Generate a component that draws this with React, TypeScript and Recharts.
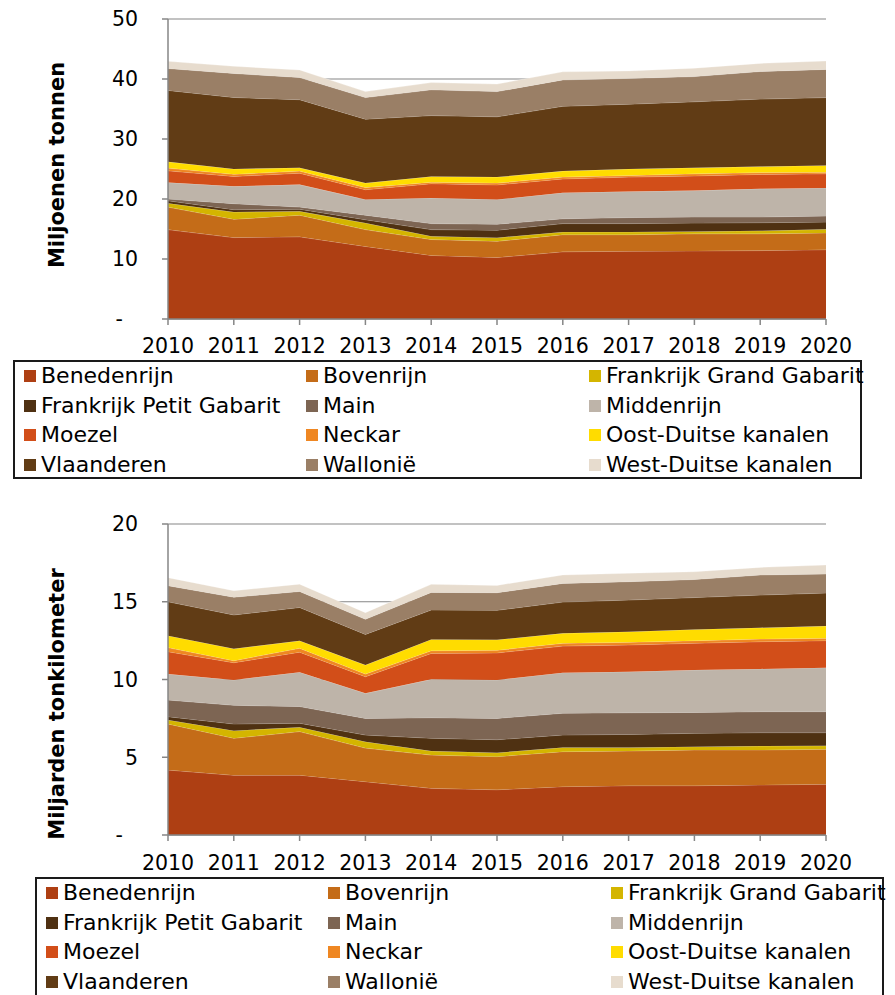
import React from 'react';
import { AreaChart, Area, XAxis, YAxis, CartesianGrid, Legend } from 'recharts';

const years = ['2010', '2011', '2012', '2013', '2014', '2015', '2016', '2017', '2018', '2019', '2020'];

const seriesNames = [
  'Benedenrijn', 'Bovenrijn', 'Frankrijk Grand Gabarit',
  'Frankrijk Petit Gabarit', 'Main', 'Middenrijn',
  'Moezel', 'Neckar', 'Oost-Duitse kanalen',
  'Vlaanderen', 'Wallonië', 'West-Duitse kanalen',
];

const seriesColors = [
  '#AE3F13', '#C46C18', '#D4B500',
  '#4F3112', '#7D6553', '#BEB4A9',
  '#D24E19', '#EF8722', '#FFDC00',
  '#613C15', '#9A7F66', '#E7DCCE',
];

// Miljoenen tonnen
const tonBenedenrijn = [14.9, 13.57, 13.7, 12.1, 10.6, 10.25, 11.2, 11.3, 11.35, 11.4, 11.55];
const tonBovenrijn = [3.75, 3.05, 3.6, 2.8, 2.65, 2.7, 2.85, 2.75, 2.85, 2.8, 2.8];
const tonFrankrijkGG = [0.65, 1.2, 0.65, 1.1, 0.55, 0.6, 0.45, 0.45, 0.4, 0.5, 0.6];
const tonFrankrijkPG = [0.4, 0.4, 0.35, 0.55, 1.1, 1.25, 1.4, 1.4, 1.4, 1.35, 1.2];
const tonMain = [0.3, 1.0, 0.35, 0.75, 1.0, 1.0, 0.8, 1.0, 1.0, 0.95, 1.0];
const tonMiddenrijn = [2.75, 2.9, 3.75, 2.6, 4.25, 4.1, 4.35, 4.35, 4.4, 4.7, 4.7];
const tonMoezel = [1.95, 1.65, 1.9, 1.65, 2.4, 2.45, 2.3, 2.4, 2.45, 2.4, 2.35];
const tonNeckar = [0.45, 0.35, 0.35, 0.35, 0.25, 0.3, 0.3, 0.25, 0.35, 0.3, 0.25];
const tonOostDuits = [1.05, 0.9, 0.55, 0.75, 0.95, 1.0, 1.0, 1.1, 1.0, 1.0, 1.15];
const tonVlaanderen = [11.9, 11.9, 11.35, 10.65, 10.15, 10.05, 10.8, 10.8, 11.0, 11.25, 11.3];
const tonWallonie = [3.65, 4.0, 3.7, 3.6, 4.3, 4.2, 4.4, 4.3, 4.2, 4.6, 4.7];
const tonWestDuits = [1.2, 1.2, 1.25, 1.0, 1.2, 1.25, 1.35, 1.25, 1.4, 1.35, 1.4];

// Miljarden tonkilometer
const tkmBenedenrijn = [4.18, 3.84, 3.85, 3.43, 3.0, 2.91, 3.11, 3.17, 3.17, 3.22, 3.26];
const tkmBovenrijn = [2.96, 2.38, 2.8, 2.16, 2.14, 2.13, 2.25, 2.23, 2.3, 2.25, 2.25];
const tkmFrankrijkGG = [0.26, 0.49, 0.28, 0.41, 0.26, 0.25, 0.27, 0.23, 0.21, 0.25, 0.23];
const tkmFrankrijkPG = [0.21, 0.43, 0.26, 0.43, 0.82, 0.84, 0.8, 0.84, 0.86, 0.86, 0.84];
const tkmMain = [1.07, 1.2, 1.07, 1.07, 1.32, 1.37, 1.4, 1.39, 1.34, 1.35, 1.35];
const tkmMiddenrijn = [1.67, 1.63, 2.21, 1.61, 2.47, 2.47, 2.61, 2.64, 2.73, 2.75, 2.83];
const tkmMoezel = [1.44, 1.11, 1.29, 1.07, 1.67, 1.74, 1.71, 1.72, 1.72, 1.75, 1.74];
const tkmNeckar = [0.26, 0.13, 0.25, 0.17, 0.17, 0.17, 0.18, 0.17, 0.17, 0.17, 0.15];
const tkmOostDuits = [0.77, 0.77, 0.48, 0.58, 0.73, 0.68, 0.64, 0.68, 0.72, 0.73, 0.79];
const tkmVlaanderen = [2.18, 2.17, 2.14, 1.97, 1.89, 1.89, 2.01, 2.04, 2.05, 2.1, 2.12];
const tkmWallonie = [1.03, 1.14, 1.03, 0.97, 1.13, 1.13, 1.2, 1.18, 1.16, 1.29, 1.22];
const tkmWestDuits = [0.52, 0.42, 0.47, 0.43, 0.52, 0.47, 0.54, 0.54, 0.5, 0.49, 0.58];

const tonTicks = [0, 10, 20, 30, 40, 50];
const tkmTicks = [0, 5, 10, 15, 20];

const tonSeries = [
  tonBenedenrijn, tonBovenrijn, tonFrankrijkGG, tonFrankrijkPG, tonMain, tonMiddenrijn,
  tonMoezel, tonNeckar, tonOostDuits, tonVlaanderen, tonWallonie, tonWestDuits,
];
const tkmSeries = [
  tkmBenedenrijn, tkmBovenrijn, tkmFrankrijkGG, tkmFrankrijkPG, tkmMain, tkmMiddenrijn,
  tkmMoezel, tkmNeckar, tkmOostDuits, tkmVlaanderen, tkmWallonie, tkmWestDuits,
];

const buildRows = (series: number[][]) =>
  years.map((year, i) => {
    const row: Record<string, string | number> = { year };
    seriesNames.forEach((name, s) => {
      row[name] = series[s][i];
    });
    return row;
  });

const tonData = buildRows(tonSeries);
const tkmData = buildRows(tkmSeries);

const FONT = '"DejaVu Sans", Verdana, sans-serif';
const AXIS_GRAY = '#868686';

const YTick = (props: any) => {
  const { x, y, payload } = props;
  const isZero = payload.value === 0;
  return (
    <text
      x={isZero ? x - 15 : x}
      y={y}
      dy="0.355em"
      textAnchor="end"
      fontSize={20.5}
      fontFamily={FONT}
      fill="#000"
    >
      {isZero ? '-' : payload.value}
    </text>
  );
};

const LegendBox = ({ height }: { height: number }) => {
  const colX = [11, 293, 576];
  const rowY = [16, 45.5, 75, 104.5];
  return (
    <div
      style={{
        position: 'relative',
        width: '100%',
        height,
        boxSizing: 'border-box',
        border: '2px solid #1a1a1a',
        fontFamily: FONT,
        fontSize: 22,
        color: '#000',
      }}
    >
      {seriesNames.map((name, i) => {
        const c = i % 3;
        const r = Math.floor(i / 3);
        return (
          <div
            key={name}
            style={{
              position: 'absolute',
              left: colX[c] - 2,
              top: rowY[r] - 2 - 14,
              height: 28,
              display: 'flex',
              alignItems: 'center',
              whiteSpace: 'nowrap',
            }}
          >
            <span
              style={{
                display: 'inline-block',
                width: 12,
                height: 12,
                background: seriesColors[i],
                marginRight: 5,
              }}
            />
            <span style={{ lineHeight: '28px' }}>{name}</span>
          </div>
        );
      })}
    </div>
  );
};

type PanelProps = {
  data: Record<string, string | number>[];
  height: number;
  marginTop: number;
  xAxisHeight: number;
  legendHeight: number;
  legendLeft: number;
  domainMax: number;
  ticks: number[];
  title: string;
  titleCenterY: number;
  tickMargin: number;
};

const Panel = (p: PanelProps) => (
  <AreaChart
    width={895}
    height={p.height}
    data={p.data}
    margin={{ top: p.marginTop, right: 69, bottom: 0, left: 0 }}
  >
    <CartesianGrid vertical={false} stroke={AXIS_GRAY} strokeWidth={1.2} />
    <XAxis
      dataKey="year"
      height={p.xAxisHeight}
      tickSize={6}
      tickMargin={p.tickMargin}
      axisLine={{ stroke: AXIS_GRAY, strokeWidth: 1.5 }}
      tickLine={{ stroke: AXIS_GRAY, strokeWidth: 1.5 }}
      tick={{ fontSize: 20.5, fontFamily: FONT, fill: '#000' }}
      interval={0}
    />
    <YAxis
      width={168}
      domain={[0, p.domainMax]}
      ticks={p.ticks}
      allowDataOverflow
      tickSize={6}
      tickMargin={24}
      axisLine={{ stroke: AXIS_GRAY, strokeWidth: 1.5 }}
      tickLine={{ stroke: AXIS_GRAY, strokeWidth: 1.5 }}
      tick={<YTick />}
    />
    {seriesNames.map((name, i) => (
      <Area
        key={name}
        type="linear"
        dataKey={name}
        stackId="1"
        fill={seriesColors[i]}
        fillOpacity={1}
        stroke="#ffffff"
        strokeOpacity={0.35}
        strokeWidth={0.8}
        isAnimationActive={false}
        dot={false}
        activeDot={false}
      />
    ))}
    <Legend
      verticalAlign="bottom"
      wrapperStyle={{ left: p.legendLeft, width: 849, height: p.legendHeight }}
      content={() => <LegendBox height={p.legendHeight} />}
    />
    <text
      x={64}
      y={p.titleCenterY}
      transform={`rotate(-90, 64, ${p.titleCenterY})`}
      textAnchor="middle"
      fontSize={21}
      fontWeight="bold"
      fontFamily={FONT}
      fill="#000"
    >
      {p.title}
    </text>
  </AreaChart>
);

export default function App() {
  return (
    <div
      style={{
        position: 'absolute',
        top: 0,
        left: 0,
        width: 895,
        height: 995,
        overflow: 'hidden',
        background: '#fff',
      }}
    >
      <div style={{ position: 'absolute', top: 0, left: 0 }}>
        <Panel
          data={tonData}
          height={479}
          marginTop={19}
          xAxisHeight={41}
          legendHeight={119}
          legendLeft={13}
          domainMax={50}
          ticks={tonTicks}
          title="Miljoenen tonnen"
          titleCenterY={165}
          tickMargin={13}
        />
      </div>
      <div style={{ position: 'absolute', top: 500, left: 0 }}>
        <Panel
          data={tkmData}
          height={497}
          marginTop={24}
          xAxisHeight={42}
          legendHeight={120}
          legendLeft={35}
          domainMax={20}
          ticks={tkmTicks}
          title="Miljarden tonkilometer"
          titleCenterY={204}
          tickMargin={14}
        />
      </div>
    </div>
  );
}
